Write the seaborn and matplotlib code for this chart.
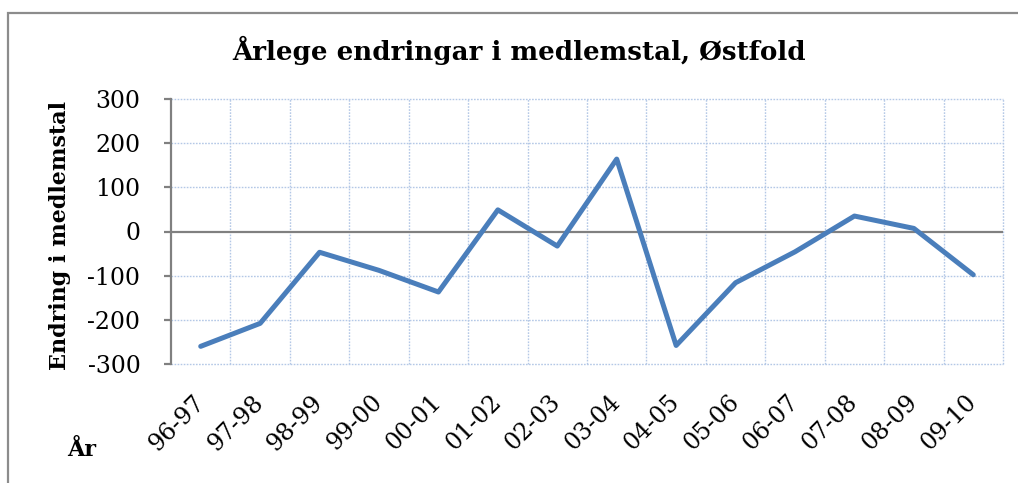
import matplotlib
matplotlib.use("Agg")
import matplotlib.pyplot as plt
import seaborn as sns
import numpy as np
from matplotlib.patches import Rectangle

periods = ["96-97", "97-98", "98-99", "99-00", "00-01", "01-02", "02-03",
           "03-04", "04-05", "05-06", "06-07", "07-08", "08-09", "09-10"]
changes = [-260, -208, -47, -88, -137, 49, -33, 164, -258, -116, -46, 35, 7, -98]
yticks = [-300, -200, -100, 0, 100, 200, 300]

title = "Årlege endringar i medlemstal, Østfold"
ylabel = "Endring i medlemstal"
xlabel = "År"

sns.set_style("white")
plt.rcParams['font.family'] = ['DejaVu Serif', 'DejaVu Sans']
plt.rcParams['text.color'] = 'black'
plt.rcParams['xtick.color'] = 'black'
plt.rcParams['ytick.color'] = 'black'

fig = plt.figure(figsize=(10.18, 4.83), dpi=100)
ax = fig.add_axes([171/1018, 1-364/483, (1003-171)/1018, (364-99)/483])

grid_color = "#b4c8e6"
ax.set_xlim(-0.5, len(periods) - 0.5)
ax.set_ylim(-300, 300)

# grid
for y in yticks:
    if y != 0:
        ax.axhline(y, color=grid_color, lw=1.0, ls=(0, (1.2, 1.0)), zorder=1,
                   clip_on=False)
for xb in np.arange(0.5, len(periods) + 0.5, 1.0):
    ax.axvline(xb, color=grid_color, lw=1.0, ls=(0, (1.2, 1.0)), zorder=1,
               clip_on=False)
ax.axhline(0, color="#808080", lw=1.6, zorder=2)

sns.lineplot(x=periods, y=changes, ax=ax, color="#4a7ebb", lw=3.6, sort=False,
             zorder=3, solid_capstyle="round", solid_joinstyle="round")

for s in ["top", "right", "bottom"]:
    ax.spines[s].set_visible(False)
ax.spines["left"].set_color("#808080")
ax.spines["left"].set_linewidth(1.6)

ax.set_yticks(yticks)
ax.set_yticklabels([str(v) for v in yticks], fontsize=17, color="black")
ax.tick_params(axis="y", direction="out", length=5, width=1.6, color="#808080",
               labelcolor="black", left=True, pad=17)
ax.set_xticks(range(len(periods)))
ax.set_xticklabels(periods, fontsize=17, rotation=45, ha="right", va="center",
                   rotation_mode="anchor", color="black")
ax.tick_params(axis="x", length=0, pad=25)
ax.set_xlabel("")
ax.set_ylabel("")

fig.text(519/1018, 1-50/483, title, ha="center", va="center",
         fontsize=18.8, fontweight="bold", color="black")
fig.text(60/1018, 1-235/483, ylabel, ha="center", va="center",
         rotation=90, fontsize=16, fontweight="bold", color="black")
fig.text(82/1018, 1-450/483, xlabel, ha="center", va="center",
         fontsize=16, fontweight="bold", color="black")

fig.patches.append(Rectangle((8/1018, -0.2), 1.2, 1-13/483+0.2,
                             transform=fig.transFigure, fill=False,
                             edgecolor="#8c8c8c", lw=1.6, zorder=0))

fig.savefig("out.png", dpi=100, facecolor="white")
